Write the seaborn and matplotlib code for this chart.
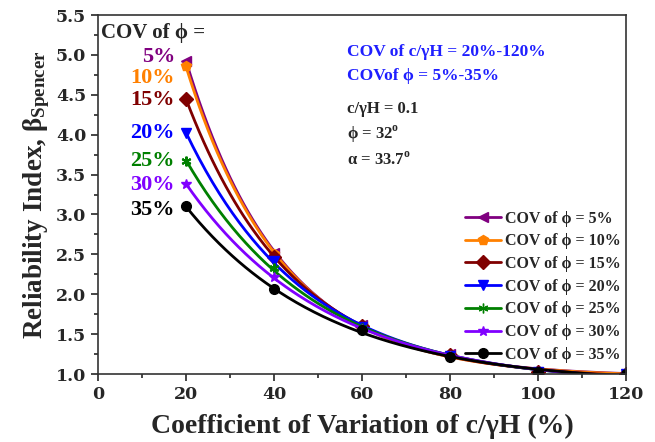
import numpy as np
import pandas as pd
import matplotlib
matplotlib.use("Agg")
import matplotlib.pyplot as plt
from matplotlib.lines import Line2D
from matplotlib.ticker import MultipleLocator
import seaborn as sns

# data
cov_cgh = [20, 40, 60, 80, 100, 120]
cov_phi = ["5%", "10%", "15%", "20%", "25%", "30%", "35%"]
beta_5 = [4.93, 2.52, 1.62, 1.25, 1.03, 1.0]
beta_10 = [4.86, 2.50, 1.61, 1.25, 1.03, 1.0]
beta_15 = [4.45, 2.47, 1.60, 1.24, 1.03, 1.0]
beta_20 = [4.02, 2.42, 1.59, 1.23, 1.03, 1.0]
beta_25 = [3.67, 2.33, 1.58, 1.22, 1.02, 1.0]
beta_30 = [3.38, 2.22, 1.57, 1.22, 1.02, 1.0]
beta_35 = [3.10, 2.06, 1.55, 1.21, 1.02, 1.0]
betas = [beta_5, beta_10, beta_15, beta_20, beta_25, beta_30, beta_35]

colors = ["#800080", "#FF8000", "#800000", "#0000FF", "#008000", "#8000FF", "#000000"]
markers = ["<", "p", "D", "v", (6, 2, 0), "*", "o"]

sns.set_style("ticks")
plt.rcParams["font.family"] = ["Liberation Serif", "DejaVu Serif"]
plt.rcParams["font.weight"] = "bold"

fig = plt.figure(figsize=(6.55, 4.42), dpi=100)
ax = fig.add_axes([0.1496, 0.1538, 0.806, 0.8122])


def exp_fit(x, y):
    # smooth trend line y = c + a*exp(-b*x) (least squares)
    x = np.asarray(x, float)
    y = np.asarray(y, float)
    best = None
    for b in np.linspace(0.005, 0.2, 400):
        A = np.column_stack([np.exp(-b * x), np.ones_like(x)])
        coef, *_ = np.linalg.lstsq(A, y, rcond=None)
        err = np.sum((A @ coef - y) ** 2)
        if best is None or err < best[0]:
            best = (err, b, coef)
    _, b, (a, c) = best
    xs = np.linspace(x.min(), x.max(), 200)
    return xs, c + a * np.exp(-b * xs)


handles = []
for lab, vals, col, mk in zip(cov_phi, betas, colors, markers):
    xs, ys = exp_fit(cov_cgh, vals)
    sns.lineplot(x=xs, y=ys, color=col, lw=2, ax=ax, legend=False)
    df = pd.DataFrame({"x": cov_cgh, "y": vals})
    ax.plot(df["x"], df["y"], ls="none", marker=mk, color=col, ms=7,
            mew=1.5 if mk == (6, 2, 0) else 1)
    handles.append(Line2D([], [], color=col, lw=2, marker=mk, ms=7,
                          label=f"COV of ϕ = {lab}"))

ax.set_xlim(0, 120)
ax.set_ylim(1.0, 5.5)
ax.xaxis.set_major_locator(MultipleLocator(20))
ax.xaxis.set_minor_locator(MultipleLocator(10))
ax.yaxis.set_major_locator(MultipleLocator(0.5))
ax.yaxis.set_minor_locator(MultipleLocator(0.25))
ax.set_yticks(np.arange(1.0, 5.51, 0.5))
ax.set_yticklabels([f"{v:.1f}" for v in np.arange(1.0, 5.51, 0.5)])
ax.tick_params(which="both", direction="out", width=1.2)
ax.tick_params(which="major", length=5, labelsize=12.5)
ax.tick_params(which="minor", length=3)
for t in ax.get_xticklabels() + ax.get_yticklabels():
    t.set_fontfamily("DejaVu Serif")
    t.set_fontweight("bold")
for s in ax.spines.values():
    s.set_visible(True)
    s.set_linewidth(1.2)
    s.set_color("#333333")

ax.set_xlabel("Coefficient of Variation of c/γH (%)", fontsize=20,
              fontweight="bold", labelpad=8)
ax.set_ylabel(r"Reliability Index, $\mathregular{\beta_{Spencer}}$", fontsize=19.5,
              fontweight="bold", labelpad=3)

# left-side labels
ax.text(0.6, 5.28, "COV of ϕ =", fontsize=15, fontweight="bold", va="center")
lab_y = [4.97, 4.71, 4.43, 4.02, 3.67, 3.37, 3.06]
for lab, col, yy in zip(cov_phi, colors, lab_y):
    ax.text(17.5, yy, lab, color=col, fontsize=16, fontweight="bold",
            ha="right", va="center")

# annotations
ax.text(56.5, 5.04, "COV of c/γH = 20%-120%", color="#1f1fff", fontsize=12.5,
        fontweight="bold", va="center")
ax.text(56.5, 4.73, "COVof ϕ = 5%-35%", color="#1f1fff", fontsize=12.5,
        fontweight="bold", va="center")
ax.text(56.5, 4.32, "c/γH = 0.1", fontsize=12, fontweight="bold", va="center")
ax.text(56.5, 4.00, r"ϕ = 32$^\mathregular{o}$", fontsize=12, fontweight="bold", va="center")
ax.text(56.5, 3.69, r"α = 33.7$^\mathregular{o}$", fontsize=12, fontweight="bold", va="center")

ax.legend(handles=handles, loc="lower right", bbox_to_anchor=(1.012, 0.0),
          frameon=False, fontsize=11.5, handlelength=2.2, handletextpad=0.3,
          labelspacing=0.42, borderpad=0.2)

fig.savefig("out.png", dpi=100)
